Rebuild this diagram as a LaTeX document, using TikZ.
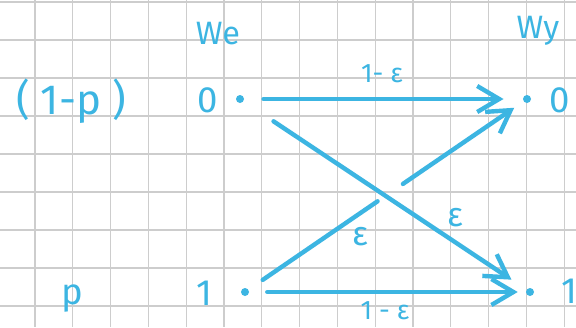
\documentclass[tikz,border=0pt]{standalone}
\usepackage{fontspec}
\setmainfont{Fira Sans}
\usetikzlibrary{arrows.meta,calc}
\definecolor{pen}{HTML}{3CB5E2}
\definecolor{gridgrey}{HTML}{CDCDCD}
\tikzset{
  sym/.style={text=pen,inner sep=0pt,font=\fontsize{26}{30}\selectfont},
  head/.style={sym,font=\fontsize{23}{27}\selectfont},
  prob/.style={text=pen,inner sep=0pt,font=\fontsize{19}{22}\selectfont},
  eps/.style={text=pen,inner sep=0pt,font=\fontsize{24}{28}\selectfont},
  dot/.style={circle,fill=pen,inner sep=0pt,minimum size=2mm},
  gridline/.style={draw=gridgrey,line width=0.3mm},
  penline/.style={draw=pen,line width=1.1mm,line cap=round},
  chan/.style={penline,-{Straight Barb[length=5.5mm,width=6.5mm]}}
}

\begin{document}
\begin{tikzpicture}[x=0.25mm,y=-0.25mm]
  \useasboundingbox[fill=white] (0,0) rectangle (576,327);
  % squared paper
  \foreach \i in {0,...,15}
    \draw[gridline] ({-2.8+37.8*\i},0) -- ({-2.8+37.8*\i},327);
  \foreach \j in {0,...,8}
    \draw[gridline] (0,{2+38*\j}) -- (576,{2+38*\j});

  \node[head] (we) at (218,34) {We};
  \node[head] (wy) at (538,31) {Wy};
  \node[sym,font=\fontsize{30}{34}\selectfont] (q) at (71,101) {( 1-p )};
  \node[sym] (p) at (72,299) {p};

  \node[sym] (x0) at (208,100) {0};
  \node[sym] (x1) at (204,293) {1};
  \node[dot] (in0) at (240,99) {};
  \node[dot] (in1) at (245,292) {};
  \node[dot] (out0) at (527,99) {};
  \node[dot] (out1) at (530,292) {};
  \node[sym] (y0) at (560,100) {0};
  \node[sym] (y1) at (569,291) {1};

  \draw[chan,shorten <=4.8mm,shorten >=4.8mm] (in0) -- (out0);
  \draw[chan,shorten <=4.5mm,shorten >=2mm] (in1) -- (out1);
  \draw[chan,shorten <=9mm,shorten >=4.5mm] (in0) -- (out1);
  \draw[penline,shorten <=4.3mm] (in1) -- ($(in1)!0.47!(out0)$);
  \draw[chan,shorten >=2.8mm] ($(in1)!0.56!(out0)$) -- (out0);

  \node[prob] (l00) at (382,74) {1- ε};
  \node[prob] (l11) at (385,311) {1 - ε};
  \node[eps] (l10) at (360,237) {ε};
  \node[eps] (l01) at (455,218) {ε};
\end{tikzpicture}
\end{document}
